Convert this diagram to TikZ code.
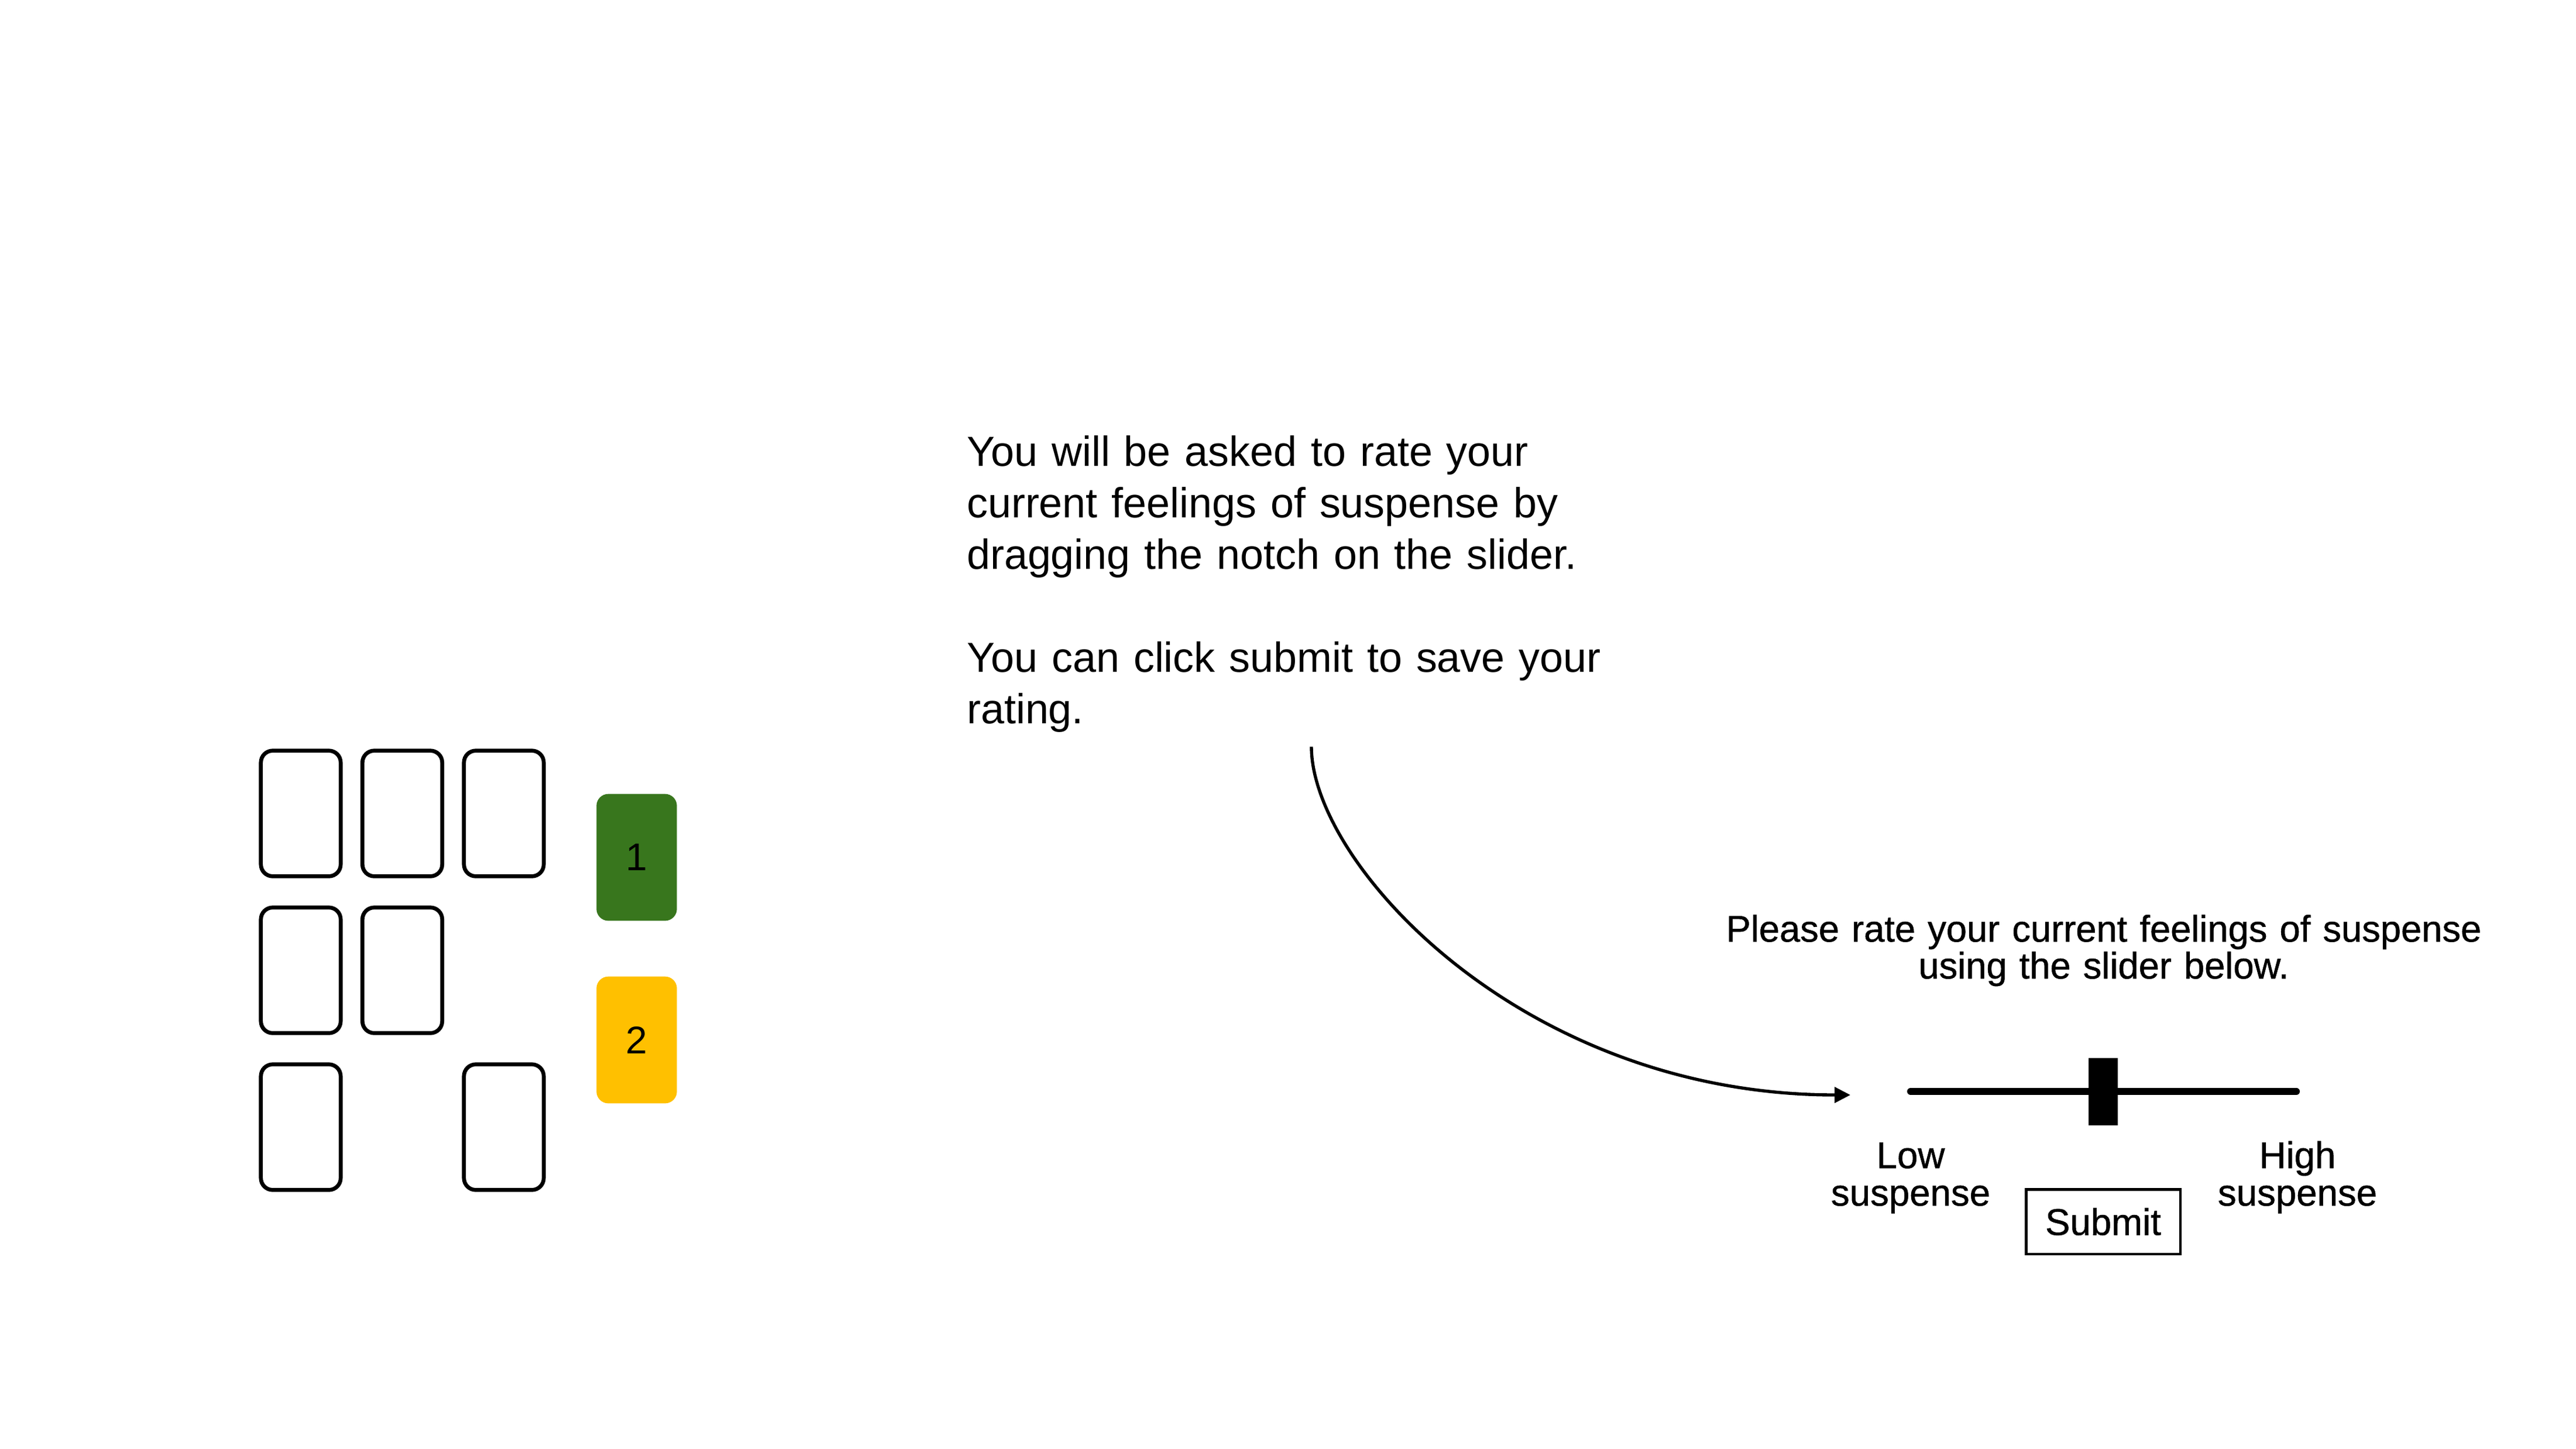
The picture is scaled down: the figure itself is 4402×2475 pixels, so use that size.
\documentclass[tikz,border=0pt]{standalone}
\usepackage{fontspec}
\setmainfont{Liberation Sans}
\newfontfamily\panelfont[FakeBold=0.8]{Liberation Sans}
\usetikzlibrary{arrows.meta}
\definecolor{cardgreen}{HTML}{38761D}
\definecolor{cardyellow}{HTML}{FFC000}
\begin{document}
\begin{tikzpicture}[x=0.16356pt, y=-0.16356pt,
  card/.style={draw=black, line width=1.1pt, rounded corners=3.3pt,
    minimum width=22.3pt, minimum height=35.1pt, inner sep=0pt},
  numcard/.style={rounded corners=3.3pt, minimum width=22.47pt,
    minimum height=35.44pt, inner sep=0pt, font=\fontsize{10.8}{13}\selectfont},
  label/.style={inner sep=0pt, text width=80pt, align=center, anchor=base,
    font=\panelfont\fontsize{10.4}{10.47}\selectfont},
  connector/.style={line width=0.88pt, -{Triangle[length=4.4pt,width=4.3pt]}}
]
\fill[white] (0,0) rectangle (4402,2475);
\useasboundingbox (0,0) rectangle (4402,2475);

% card grid
\node[card] (c11) at (514,1390) {};
\node[card] (c12) at (687.5,1390) {};
\node[card] (c13) at (861,1390) {};
\node[card] (c21) at (514,1658) {};
\node[card] (c22) at (687.5,1658) {};
\node[card] (c31) at (514,1926) {};
\node[card] (c33) at (861,1926) {};

% numbered cards
\node[numcard, fill=cardgreen] (g1) at (1088,1465) {1};
\node[numcard, fill=cardyellow] (y2) at (1088,1777) {2};

% instructions
\node[inner sep=0pt, anchor=base west, text width=260pt, align=left,
      font=\fontsize{11.75}{14.4}\selectfont] (instr) at (1651,796)
  {You will be asked to rate your\\
   current feelings of suspense by\\
   dragging the notch on the slider.\\[14.4pt]
   You can click submit to save your\\
   rating.};

% prompt
\node[inner sep=0pt, anchor=base, text width=260pt, align=center,
      font=\panelfont\fontsize{10.35}{10.3}\selectfont] (prompt) at (3595,1609)
  {Please rate your current feelings of suspense\\ using the slider below.};

% slider
\coordinate (sl) at (3265,1865);
\coordinate (sr) at (3924,1865);
\draw[line width=1.96pt, line cap=round] (sl) -- (sr);
\node[fill=black, inner sep=0pt, minimum width=8.2pt, minimum height=18.8pt] (notch) at (3594,1865) {};

\node[label] (low) at (3265,1996) {Low\\suspense};
\node[label] (high) at (3926,1996) {High\\suspense};

\node[draw=black, line width=0.74pt, inner sep=0pt, minimum width=43.1pt,
      minimum height=18.07pt, font=\panelfont\fontsize{10.4}{12}\selectfont] (submit) at (3594,2087.5) {Submit};

% arrow
\coordinate (as) at (2241,1276);
\coordinate (ae) at (3162,1871);
\draw[connector] (as) .. controls +(0,200) and +(-560,0) .. (ae);
\end{tikzpicture}
\end{document}
